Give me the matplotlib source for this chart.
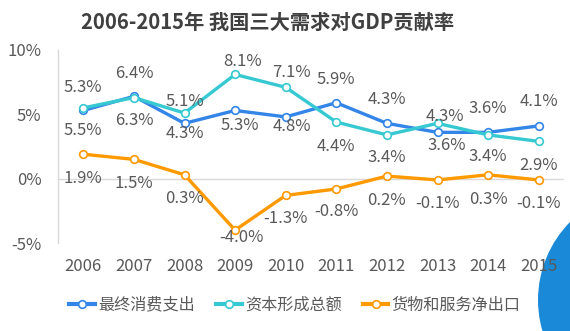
import matplotlib
matplotlib.use("Agg")
import matplotlib.pyplot as plt
from matplotlib.patches import Ellipse
from matplotlib.lines import Line2D

plt.rcParams['font.family'] = ['Noto Sans CJK SC', 'DejaVu Sans']

years = ['2006', '2007', '2008', '2009', '2010', '2011', '2012', '2013', '2014', '2015']
consumption = [5.3, 6.4, 4.3, 5.3, 4.8, 5.9, 4.3, 3.6, 3.6, 4.1]
capital = [5.5, 6.3, 5.1, 8.1, 7.1, 4.4, 3.4, 4.3, 3.4, 2.9]
net_export = [1.9, 1.5, 0.3, -4.0, -1.3, -0.8, 0.2, -0.1, 0.3, -0.1]
series_names = ['最终消费支出', '资本形成总额', '货物和服务净出口']
yticks = [-5, 0, 5, 10]
title = '2006-2015年 我国三大需求对GDP贡献率'

colors = ['#3385e8', '#37c9d2', '#ff9900']
# label offsets in pixels (dx, dy; dy positive = downward)
label_dy = [
    [-22.6, -23, 10.5, 15.5, 10, -23, -23.5, 13.4, -23.6, -24],
    [23, 23, -12, -12.5, -14.4, 24, 23, -6.5, 22, 24],
    [24.5, 24, 24, 7, 23, 23, 24.6, 24, 25, 24],
]
label_dx = [
    [0, 0, 0, 5, 6, 0, 0, 9, 0, 0],
    [0, 0, 0, 7, 6, 0, 0, 7, 0, 0],
    [0, 0, 0, 6, 0, 0, 0, 0, 0, 0],
]

W, H = 570, 331
fig = plt.figure(figsize=(W / 100, H / 100), dpi=100)
fig.patch.set_facecolor('white')

# decorative circle bottom-right
circ = Ellipse((649 / W, 1 - 300 / H), 222 / W, 222 / H, transform=fig.transFigure,
               facecolor='#1a8ad8', edgecolor='none', zorder=0)
fig.add_artist(circ)

ax = fig.add_axes([58 / W, 1 - 243 / H, (564 - 58) / W, (243 - 50) / H])
ax.set_facecolor('none')
x = list(range(len(years)))
all_series = [consumption, capital, net_export]
for vals, c, name in zip(all_series, colors, series_names):
    ax.plot(x, vals, color=c, lw=2.4, marker='o', markersize=5.5,
            markerfacecolor='white', markeredgecolor=c, markeredgewidth=1.2,
            label=name, zorder=3, solid_capstyle='round')

px2pt = 72 / 100
fs = 12
for vals, dys, dxs in zip(all_series, label_dy, label_dx):
    for i, v in enumerate(vals):
        ax.annotate(f'{v:.1f}%', (i, v), xytext=(dxs[i] * px2pt, -dys[i] * px2pt),
                    textcoords='offset points', ha='center', va='center',
                    fontsize=fs, color='#595959', zorder=4)

ax.set_xlim(-0.5, len(years) - 0.5)
ax.set_ylim(-5, 10)
ax.set_yticks(yticks)
ax.set_yticklabels([f'{t}%' for t in yticks])
ax.set_xticks(x)
ax.set_xticklabels(years)
ax.tick_params(axis='both', length=0, labelsize=fs, labelcolor='#595959')
ax.tick_params(axis='y', pad=12)
ax.tick_params(axis='x', pad=11)
for s in ['top', 'right', 'bottom']:
    ax.spines[s].set_visible(False)
ax.spines['left'].set_color('#d9d9d9')
ax.spines['left'].set_linewidth(1)
ax.axhline(0, color='#d9d9d9', lw=1, zorder=1)

fig.text(268 / W, 1 - 22 / H, title, ha='center', va='center', fontsize=14.6,
         fontweight='bold', color='#404040')

handles = [Line2D([0], [0], color=c, lw=3, marker='o', markersize=5.5,
                  markerfacecolor='white', markeredgecolor=c, markeredgewidth=1.2)
           for c in colors]
fig.legend(handles, series_names, loc='center', bbox_to_anchor=(295 / W, 1 - 305 / H),
           ncol=3, frameon=False, fontsize=11.6, handlelength=1.6,
           handletextpad=0.2, columnspacing=1.3, labelcolor='#595959')

fig.savefig('out.png', dpi=100)
